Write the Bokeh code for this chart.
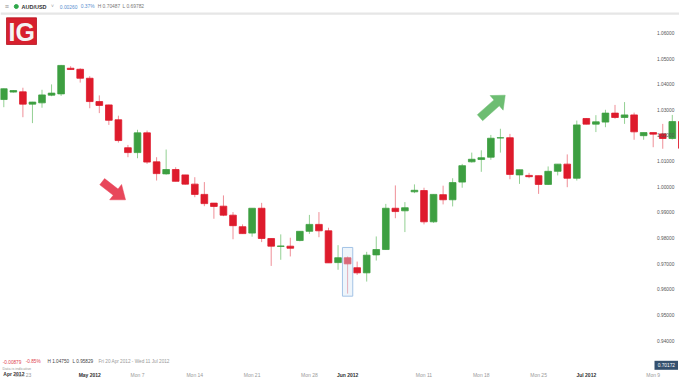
import math
from bokeh.plotting import figure
from bokeh.models import LinearAxis, FixedTicker, ColumnDataSource, NumeralTickFormatter
from bokeh.embed import file_html
from bokeh.resources import INLINE
from bokeh.core.properties import value

# ---------------- data ----------------
dates = ["Fri 20 Apr", "Sun 22 Apr", "Mon 23 Apr", "Tue 24 Apr", "Wed 25 Apr", "Thu 26 Apr", "Fri 27 Apr",
         "Sun 29 Apr", "Mon 30 Apr", "Tue 1 May", "Wed 2 May", "Thu 3 May", "Fri 4 May",
         "Sun 6 May", "Mon 7 May", "Tue 8 May", "Wed 9 May", "Thu 10 May", "Fri 11 May",
         "Sun 13 May", "Mon 14 May", "Tue 15 May", "Wed 16 May", "Thu 17 May", "Fri 18 May",
         "Sun 20 May", "Mon 21 May", "Tue 22 May", "Wed 23 May", "Thu 24 May", "Fri 25 May",
         "Sun 27 May", "Mon 28 May", "Tue 29 May", "Wed 30 May", "Thu 31 May", "Fri 1 Jun",
         "Sun 3 Jun", "Mon 4 Jun", "Tue 5 Jun", "Wed 6 Jun", "Thu 7 Jun", "Fri 8 Jun",
         "Sun 10 Jun", "Mon 11 Jun", "Tue 12 Jun", "Wed 13 Jun", "Thu 14 Jun", "Fri 15 Jun",
         "Sun 17 Jun", "Mon 18 Jun", "Tue 19 Jun", "Wed 20 Jun", "Thu 21 Jun", "Fri 22 Jun",
         "Sun 24 Jun", "Mon 25 Jun", "Tue 26 Jun", "Wed 27 Jun", "Thu 28 Jun", "Fri 29 Jun",
         "Sun 1 Jul", "Mon 2 Jul", "Tue 3 Jul", "Wed 4 Jul", "Thu 5 Jul", "Fri 6 Jul",
         "Sun 8 Jul", "Mon 9 Jul", "Tue 10 Jul", "Wed 11 Jul", "Thu 12 Jul"]

opens = [1.0340, 1.0369, 1.0370, 1.0322, 1.0327, 1.0357, 1.0362,
         1.0462, 1.0458, 1.0423, 1.0332, 1.0319, 1.0261,
         1.0152, 1.0133, 1.0210, 1.0097, 1.0050, 1.0067,
         1.0046, 1.0010, 0.9970, 0.9936, 0.9924, 0.9889,
         0.9844, 0.9819, 0.9916, 0.9798, 0.9767, 0.9768,
         0.9790, 0.9826, 0.9853, 0.9828, 0.9704, 0.9723,
         0.9684, 0.9664, 0.9734, 0.9755, 0.9916, 0.9906,
         0.9980, 0.9985, 0.9863, 0.9969, 0.9949, 1.0018,
         1.0097, 1.0106, 1.0115, 1.0190, 1.0191, 1.0046,
         1.0044, 1.0043, 1.0009, 1.0060, 1.0088, 1.0033,
         1.0266, 1.0244, 1.0252, 1.0287, 1.0270, 1.0280,
         1.0199, 1.0211, 1.0206, 1.0188, 1.0254]
highs = [1.0383, 1.0377, 1.0386, 1.0331, 1.0378, 1.0399, 1.0475,
         1.0470, 1.0462, 1.0431, 1.0356, 1.0320, 1.0277,
         1.0163, 1.0222, 1.0219, 1.0115, 1.0145, 1.0076,
         1.0046, 1.0037, 1.0018, 0.9936, 0.9966, 0.9901,
         0.9853, 0.9916, 0.9937, 0.9798, 0.9814, 0.9801,
         0.9826, 0.9890, 0.9901, 0.9840, 0.9772, 0.9728,
         0.9708, 0.9746, 0.9806, 0.9933, 1.0005, 0.9940,
         1.0009, 0.9996, 0.9970, 1.0004, 1.0033, 1.0089,
         1.0133, 1.0142, 1.0202, 1.0226, 1.0206, 1.0066,
         1.0054, 1.0043, 1.0079, 1.0088, 1.0126, 1.0258,
         1.0268, 1.0279, 1.0300, 1.0319, 1.0330, 1.0289,
         1.0211, 1.0211, 1.0245, 1.0280, 1.0256]
lows = [1.0310, 1.0367, 1.0271, 1.0248, 1.0308, 1.0353, 1.0354,
        1.0457, 1.0406, 1.0306, 1.0287, 1.0241, 1.0172,
        1.0115, 1.0111, 1.0089, 1.0024, 1.0047, 1.0021,
        1.0008, 0.9959, 0.9924, 0.9875, 0.9885, 0.9795,
        0.9817, 0.9805, 0.9784, 0.9691, 0.9715, 0.9728,
        0.9787, 0.9816, 0.9803, 0.9703, 0.9676, 0.9583,
        0.9656, 0.9630, 0.9712, 0.9754, 0.9877, 0.9823,
        0.9975, 0.9853, 0.9859, 0.9931, 0.9923, 0.9996,
        1.0094, 1.0058, 1.0105, 1.0133, 1.0029, 1.0011,
        1.0033, 0.9972, 1.0007, 1.0044, 0.9998, 1.0024,
        1.0243, 1.0213, 1.0232, 1.0265, 1.0245, 1.0183,
        1.0183, 1.0154, 1.0148, 1.0184, 1.0141]
closes = [1.0382, 1.0375, 1.0322, 1.0330, 1.0358, 1.0365, 1.0473,
          1.0457, 1.0423, 1.0332, 1.0317, 1.0259, 1.0180,
          1.0133, 1.0210, 1.0096, 1.0051, 1.0067, 1.0021,
          1.0010, 0.9970, 0.9934, 0.9923, 0.9889, 0.9848,
          0.9817, 0.9916, 0.9798, 0.9768, 0.9769, 0.9760,
          0.9826, 0.9853, 0.9828, 0.9703, 0.9723, 0.9699,
          0.9664, 0.9733, 0.9755, 0.9916, 0.9903, 0.9918,
          0.9986, 0.9863, 0.9970, 0.9949, 1.0016, 1.0082,
          1.0107, 1.0113, 1.0189, 1.0191, 1.0048, 1.0066,
          1.0039, 1.0009, 1.0060, 1.0088, 1.0033, 1.0241,
          1.0244, 1.0253, 1.0287, 1.0270, 1.0280, 1.0214,
          1.0211, 1.0205, 1.0188, 1.0254, 1.0150]

y_ticks = [0.94, 0.95, 0.96, 0.97, 0.98, 0.99, 1.00, 1.01, 1.02, 1.03, 1.04, 1.05, 1.06]
month_ticks = [9, 36, 61]
month_labels = ["May 2012", "Jun 2012", "Jul 2012"]
day_ticks = [2, 14, 20, 26, 32, 44, 50, 56, 68]
day_labels = ["Mon 23", "Mon 7", "Mon 14", "Mon 21", "Mon 28", "Mon 11", "Mon 18", "Mon 25", "Mon 9"]
first_month_label = "Apr 2012"

pair = "AUD/USD"
head_change = "0.00260"
head_change_pct = "0.37%"
head_high = "H 0.70487"
head_low = "L 0.69782"
foot_change = "-0.00879"
foot_change_pct = "-0.85%"
foot_high = "H 1.04750"
foot_low = "L 0.95829"
foot_range = "Fri 20 Apr 2012 - Wed 11 Jul 2012"
foot_note = "Data is indicative"
last_price = "0.70172"

highlight_idx = 36
highlight_low = 0.9573
highlight_high = 0.9763

# ---------------- geometry helpers (pixel <-> data) ----------------
X0, DX = 3.3, 9.55      # px of first candle, px per candle
Y1, K = 186.2, 2564.0   # px of price 1.0, px per price unit
W, H = 679, 379


def X(px):
    return (px - X0) / DX


def Y(py):
    return 1.0 - (py - Y1) / K


FONT_NAME = "Liberation Sans"
FONT = value(FONT_NAME)

p = figure(width=W, height=H, output_backend="svg", toolbar_location=None,
           x_range=(X(0), X(W)), y_range=(Y(H), Y(0)),
           x_axis_location=None, y_axis_location=None,
           min_border=0, outline_line_color=None,
           background_fill_color="white", border_fill_color="white")
p.xgrid.visible = False
p.ygrid.visible = False

# ---------------- candles ----------------
up_body, dn_body = "#3d9f41", "#de1b2c"
up_wick, dn_wick = "#93d093", "#ef8e97"
idx = list(range(len(dates)))
is_up = [c >= o for o, c in zip(opens, closes)]
src = ColumnDataSource(dict(
    x=idx, date=dates, open=opens, high=highs, low=lows, close=closes,
    top=[max(o, c) for o, c in zip(opens, closes)],
    bottom=[min(o, c) for o, c in zip(opens, closes)],
    body=[up_body if u else dn_body for u in is_up],
    wick=[up_wick if u else dn_wick for u in is_up],
))
p.segment(x0="x", y0="low", x1="x", y1="high", color="wick", line_width=1, source=src)
p.vbar(x="x", width=0.7, top="top", bottom="bottom", fill_color="body",
       line_color="body", line_width=0.8, source=src)

# highlight box around the 1 June candle
p.quad(left=[highlight_idx - 0.54], right=[highlight_idx + 0.54],
       bottom=[highlight_low], top=[highlight_high],
       fill_color="#d3e4f4", fill_alpha=0.38, line_color="#a3c3e6", line_width=1)


# ---------------- arrows ----------------
def arrow(tail, tip, w, hw, hl):
    dx, dy = tip[0] - tail[0], tip[1] - tail[1]
    L = math.hypot(dx, dy)
    ux, uy = dx / L, dy / L
    nx, ny = -uy, ux
    bx, by = tip[0] - ux * hl, tip[1] - uy * hl
    pts = [(tail[0] + nx * w, tail[1] + ny * w), (bx + nx * w, by + ny * w),
           (bx + nx * hw, by + ny * hw), tip, (bx - nx * hw, by - ny * hw),
           (bx - nx * w, by - ny * w), (tail[0] - nx * w, tail[1] - ny * w)]
    return [X(a) for a, _ in pts], [Y(b) for _, b in pts]


rx, ry = arrow((101.7, 181.2), (125.0, 199.3), 3.9, 9.7, 12.5)
p.patch(rx, ry, fill_color="#e8475b", line_color="#e8475b", line_width=0.5)
gx, gy = arrow((479.5, 117.2), (504.7, 94.7), 4.0, 9.8, 11.5)
p.patch(gx, gy, fill_color="#6dbd72", line_color="#6dbd72", line_width=0.5)

# ---------------- axes (drawn inside the frame) ----------------
yax = LinearAxis(fixed_location=X(654.5), ticker=FixedTicker(ticks=y_ticks),
                 formatter=NumeralTickFormatter(format="0.00000"))
yax.axis_line_color = None
yax.major_tick_line_color = None
yax.minor_tick_line_color = None
yax.major_tick_in = 0
yax.major_tick_out = 0
yax.major_label_standoff = 2
yax.major_label_text_font = FONT_NAME
yax.major_label_text_font_size = "4.8px"
yax.major_label_text_color = "#555555"
p.add_layout(yax, "right")

dax = LinearAxis(fixed_location=Y(370.5), ticker=FixedTicker(ticks=day_ticks),
                 major_label_overrides={t: s for t, s in zip(day_ticks, day_labels)})
max_ = LinearAxis(fixed_location=Y(370.5), ticker=FixedTicker(ticks=month_ticks),
                  major_label_overrides={t: s for t, s in zip(month_ticks, month_labels)})
for ax, col, style in ((dax, "#9a9a9a", "normal"), (max_, "#333333", "bold")):
    ax.axis_line_color = None
    ax.major_tick_line_color = None
    ax.minor_tick_line_color = None
    ax.major_tick_in = 0
    ax.major_tick_out = 0
    ax.major_label_standoff = 1
    ax.major_label_text_font = FONT_NAME
    ax.major_label_text_font_size = "5px"
    ax.major_label_text_color = col
    ax.major_label_text_font_style = style
    p.add_layout(ax, "below")

# pinned first-month label covering the left part of "Mon 23"
p.quad(left=[X(0)], right=[X(26.5)], bottom=[Y(377)], top=[Y(370.5)],
       fill_color="white", line_color=None)
p.text(x=[X(2.8)], y=[Y(373.6)], text=[first_month_label], text_font=FONT,
       text_font_size="5px", text_font_style="bold", text_color="#333333",
       text_baseline="middle", text_align="left")

# ---------------- header ----------------
p.quad(left=[X(0)], right=[X(W)], bottom=[Y(14.2)], top=[Y(12)],
       fill_color="#e6e6e6", line_color=None)


def txt(px, py, s, size, color, style="normal", align="left"):
    p.text(x=[X(px)], y=[Y(py)], text=[s], text_font=FONT, text_font_size=size,
           text_font_style=style, text_color=color, text_baseline="middle",
           text_align=align)


txt(4.3, 5.6, "≡", "7px", "#8a8a8a")
p.scatter(x=[X(15.8)], y=[Y(6.0)], size=4, color="#2ea84a")
txt(21, 6.2, pair, "5.5px", "#333333", "bold")
txt(50.5, 5.5, "˅", "5px", "#999999")
txt(59.3, 6.2, head_change, "4.9px", "#5a8fd0")
txt(80.2, 6.2, head_change_pct, "4.9px", "#5a8fd0")
txt(97.2, 6.2, head_high, "4.9px", "#777777")
txt(122.0, 6.2, head_low, "4.9px", "#777777")

# IG logo
p.quad(left=[X(6)], right=[X(36)], bottom=[Y(44)], top=[Y(17.3)],
       fill_color="#d7202e", line_color="#b5141f", line_width=0.8)
txt(21.3, 31.2, "IG", "25px", "#f4f4f4", "bold", "center")

# ---------------- footer ----------------
txt(2.3, 361.3, foot_change, "4.7px", "#e0424e")
txt(25.2, 361.3, foot_change_pct, "4.7px", "#e0424e")
txt(47.0, 361.3, foot_high, "4.7px", "#444444")
txt(72.0, 361.3, foot_low, "4.7px", "#444444")
txt(98.0, 361.3, foot_range, "4.7px", "#999999")
txt(2.0, 368.4, foot_note, "3.8px", "#999999")

# last price marker
p.quad(left=[X(654)], right=[X(677.5)], bottom=[Y(369.3)], top=[Y(360.3)],
       fill_color="#34506e", line_color=None)
txt(665.8, 364.9, last_price, "4.8px", "white", "normal", "center")

open("out.html", "w").write(file_html(p, INLINE))
